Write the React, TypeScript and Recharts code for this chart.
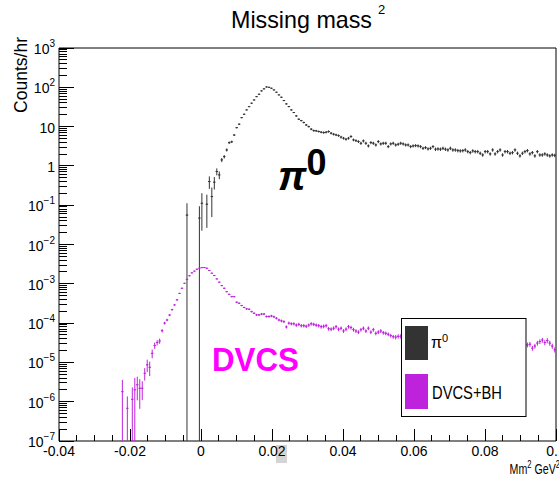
import React from 'react';
import { ScatterChart, Scatter, XAxis, YAxis, ErrorBar, ReferenceArea } from 'recharts';

const W = 559;
const H = 482;
const FONT = '"Liberation Sans", Arial, Helvetica, sans-serif';

// histogram binning
const HIST_MIN = -0.04;
const BIN_WIDTH = 0.0007;
const Y_MIN = 1e-7;
const Y_MAX = 1000;

// pi0 counts/hr, bins 51..199 (null = empty bin)
const PI0_FIRST_BIN = 51;
const pi0Counts: (number | null)[] = [
  0.056, null, null, null, null, 0.047, 0.112, null, 0.106, 0.40,
  0.166, 0.385, 0.72, 0.59, 1.42, 1.72, 2.55, 3.9, 4.1, 6.1,
  9.4, 11.5, 16.9, 20.6, 26.6, 32.2, 39.4, 47.6, 57.8, 66.7,
  81.1, 91.3, 102, 100, 94.7, 85.9, 74.9, 64.1, 55.9, 46,
  37.8, 32.3, 26.6, 22.8, 18.7, 15.4, 14.2, 12.7, 11.0, 10.0,
  8.6, 7.9, 7.8, 7.5, 7.2, 7.05, 7.2, 7.5, 6.8, 6.4,
  6.15, 5.9, 5.4, 5.06, 4.77, 5.06, 5.6, 4.6, 4.4, 4.16,
  3.77, 4.33, 3.77, 3.23, 3.92, 3.77, 3.42, 4.16, 3.63, 3.77,
  3.77, 3.1, 3.63, 3.77, 3.42, 3.56, 3.77, 3.63, 3.42, 3.42,
  3.1, 3.23, 3.29, 3.23, 3.1, 2.81, 2.93, 2.71, 2.81, 3.1,
  2.66, 2.71, 2.66, 2.81, 2.66, 2.55, 2.81, 2.55, 2.55, 2.45,
  2.41, 2.45, 2.55, 2.31, 2.18, 2.41, 2.31, 2.31, 2.1, 1.9,
  2.31, 2.31, 2.02, 2.55, 2.02, 2.31, 2.55, 1.9, 2.31, 2.31,
  2.1, 2.18, 2.55, 2.1, 1.8, 2.1, 2.31, 2.45, 2.02, 2.18,
  1.8, 2.31, 1.9, 1.9, 2.02, 1.9, 1.8, 1.9, 1.85,
];
// pi0 relative errors, percent
const pi0RelErrPct: number[] = [
  100, 0, 0, 0, 0, 100, 80, 0, 75, 35,
  70, 35, 20, 22, 12, 10, 9, 7, 7, 5,
  4, 4, 3, 3, 2, 2, 2, 2, 2, 2,
  2, 2, 2, 2, 2, 2, 2, 2, 2, 2,
  3, 3, 3, 3, 4, 4, 4, 5, 5, 5,
  6, 6, 6, 6, 6, 7, 7, 7, 7, 7,
  7, 7, 8, 8, 8, 8, 8, 8, 8, 8,
  9, 9, 9, 9, 9, 9, 9, 9, 9, 9,
  9, 9, 9, 9, 9, 9, 9, 9, 9, 9,
  9, 9, 9, 9, 9, 9, 9, 9, 9, 9,
  10, 10, 10, 10, 10, 10, 10, 10, 10, 10,
  10, 10, 10, 10, 10, 10, 10, 10, 10, 10,
  10, 10, 10, 10, 10, 10, 10, 10, 10, 10,
  10, 10, 10, 10, 10, 10, 10, 10, 10, 10,
  10, 10, 10, 10, 10, 10, 10, 10, 10,
];

// DVCS+BH counts/hr, bins 25..199
const DVCS_FIRST_BIN = 25;
const dvcsCounts: (number | null)[] = [
  1.8e-6, null, 6.8e-7, null, 1.15e-6, 2.0e-6, 2.7e-6, 2.2e-6, 2.2e-6, 5.3e-6,
  8.7e-6, 7.5e-6, 1.7e-5, 2.7e-5, 3.2e-5, 3.5e-5, 6.4e-5, 1.0e-4, 1.2e-4, 1.6e-4,
  2.2e-4, 2.9e-4, 3.9e-4, 5.7e-4, 7.7e-4, 1.03e-3, 1.3e-3, 1.6e-3, 1.9e-3, 2.1e-3,
  2.35e-3, 2.5e-3, 2.58e-3, 2.59e-3, 2.49e-3, 2.17e-3, 1.86e-3, 1.62e-3, 1.33e-3, 1.10e-3,
  9.0e-4, 7.7e-4, 6.3e-4, 5.4e-4, 4.7e-4, 4.7e-4, 3.4e-4, 3.2e-4, 2.8e-4, 2.5e-4,
  2.3e-4, 2.25e-4, 1.96e-4, 1.78e-4, 1.62e-4, 1.62e-4, 1.7e-4, 1.7e-4, 1.47e-4, 1.47e-4,
  1.52e-4, 1.45e-4, 1.33e-4, 1.2e-4, 1.14e-4, 1.09e-4, 8.0e-5, 1.0e-4, 9.6e-5, 9.6e-5,
  8.9e-5, 9.3e-5, 8.6e-5, 8.6e-5, 8.3e-5, 8.9e-5, 9.6e-5, 9.3e-5, 8.9e-5, 8.6e-5,
  8.1e-5, 8.3e-5, 8.6e-5, 7.2e-5, 7.0e-5, 7.4e-5, 8.1e-5, 7.0e-5, 7.4e-5, 6.3e-5,
  7.0e-5, 8.1e-5, 7.7e-5, 6.8e-5, 6.3e-5, 5.9e-5, 6.8e-5, 7.4e-5, 6.3e-5, 7.4e-5,
  5.9e-5, 6.8e-5, 5.5e-5, 5.9e-5, 6.3e-5, 5.7e-5, 5.5e-5, 5.2e-5, 4.8e-5, 4.5e-5,
  4.4e-5, 4.6e-5, 4.6e-5, 4.9e-5, 4.4e-5, 4.7e-5, 4.3e-5, 4.5e-5, 4.2e-5, 4.6e-5,
  4.1e-5, 4.3e-5, 4.0e-5, 4.4e-5, 3.9e-5, 4.2e-5, 4.0e-5, 3.8e-5, 4.1e-5, 3.7e-5,
  3.9e-5, 3.6e-5, 4.0e-5, 3.5e-5, 3.8e-5, 3.6e-5, 3.4e-5, 3.7e-5, 3.5e-5, 3.3e-5,
  3.6e-5, 3.4e-5, 3.2e-5, 3.5e-5, 3.3e-5, 3.1e-5, 3.4e-5, 3.2e-5, 3.0e-5, 3.3e-5,
  3.1e-5, 3.2e-5, 2.9e-5, 3.1e-5, 3.0e-5, 2.8e-5, 3.1e-5, 2.9e-5, 3.0e-5, 2.8e-5,
  3.0e-5, 2.9e-5, 2.7e-5, 2.8e-5, 2.9e-5, 2.3e-5, 2.6e-5, 3.1e-5, 3.4e-5, 3.7e-5,
  3.2e-5, 3.6e-5, 3.1e-5, 2.6e-5, 2.1e-5,
];
const dvcsRelErrPct: number[] = [
  100, 0, 100, 0, 100, 100, 60, 70, 50, 35,
  35, 40, 25, 18, 15, 15, 10, 8, 7, 6,
  5, 4, 4, 3, 3, 2, 2, 2, 2, 2,
  2, 2, 2, 2, 2, 2, 2, 2, 2, 2,
  3, 3, 3, 3, 3, 3, 4, 4, 4, 4,
  5, 5, 5, 5, 6, 6, 6, 6, 6, 7,
  7, 7, 7, 8, 8, 8, 9, 9, 9, 9,
  10, 10, 10, 10, 10, 10, 10, 10, 10, 10,
  11, 11, 11, 11, 11, 11, 11, 11, 11, 11,
  11, 11, 11, 11, 11, 11, 11, 11, 11, 11,
  11, 11, 11, 11, 11, 11, 11, 11, 11, 11,
  13, 13, 13, 13, 13, 13, 13, 13, 13, 13,
  13, 13, 13, 13, 13, 13, 13, 13, 13, 13,
  13, 13, 13, 13, 13, 13, 13, 13, 13, 13,
  13, 13, 13, 13, 13, 13, 13, 13, 13, 13,
  13, 13, 13, 13, 13, 13, 13, 13, 13, 13,
  14, 14, 14, 14, 14, 14, 14, 14, 14, 14,
  15, 15, 15, 15, 15,
];

// axes
const xTicks = [
  -0.04, -0.035, -0.03, -0.025, -0.02, -0.015, -0.01, -0.005, 0, 0.005, 0.01, 0.015,
  0.02, 0.025, 0.03, 0.035, 0.04, 0.045, 0.05, 0.055, 0.06, 0.065, 0.07, 0.075, 0.08,
  0.085, 0.09, 0.095, 0.1,
];
const xMajorTicks = [-0.04, -0.02, 0, 0.02, 0.04, 0.06, 0.08, 0.1];
const xMajorLabels = ['-0.04', '-0.02', '0', '0.02', '0.04', '0.06', '0.08', '0.1'];
const yMajorTicks = [1e-7, 1e-6, 1e-5, 1e-4, 1e-3, 1e-2, 1e-1, 1, 10, 100, 1000];
const yMajorLabels: [string, string][] = [
  ['10', '\u22127'], ['10', '\u22126'], ['10', '\u22125'], ['10', '\u22124'], ['10', '\u22123'],
  ['10', '\u22122'], ['10', '\u22121'], ['1', ''], ['10', ''], ['10', '2'], ['10', '3'],
];
const yMinorMultipliers = [2, 3, 4, 5, 6, 7, 8, 9];

const yTicks: number[] = [];
yMajorTicks.forEach((m, i) => {
  yTicks.push(m);
  if (i < yMajorTicks.length - 1) yMinorMultipliers.forEach((f) => yTicks.push(m * f));
});

const PI0_COLOR = '#333333';
const DVCS_COLOR = '#bf22dc';

function buildSeries(first: number, counts: (number | null)[], relPct: number[]) {
  const out: { x: number; y: number; ex: number; ey: [number, number] }[] = [];
  counts.forEach((c, i) => {
    if (c == null) return;
    const k = first + i;
    const err = (c * relPct[i]) / 100;
    const lo = Math.min(err, c - Y_MIN);
    out.push({ x: HIST_MIN + (k + 0.5) * BIN_WIDTH, y: c, ex: BIN_WIDTH / 2, ey: [lo, err] });
  });
  return out;
}

const pi0Data = buildSeries(PI0_FIRST_BIN, pi0Counts, pi0RelErrPct);
const dvcsData = buildSeries(DVCS_FIRST_BIN, dvcsCounts, dvcsRelErrPct);

const XTick = (props: any) => {
  const { x, y, payload } = props;
  const v = payload.value;
  const idx = xMajorTicks.findIndex((m) => Math.abs(m - v) < 1e-9);
  if (idx < 0) {
    return <line x1={x} x2={x} y1={y} y2={y - 6} stroke="#000" shapeRendering="crispEdges" />;
  }
  return (
    <g>
      <line x1={x} x2={x} y1={y} y2={y - 12} stroke="#000" shapeRendering="crispEdges" />
      <text x={x} y={y + 15} textAnchor="middle" fontSize={14} fontFamily={FONT} fill="#000">
        {xMajorLabels[idx]}
      </text>
    </g>
  );
};

const YTick = (props: any) => {
  const { x, y, payload } = props;
  const v = payload.value;
  const idx = yMajorTicks.findIndex((m) => Math.abs(v / m - 1) < 1e-6);
  if (idx < 0) {
    return <line x1={x} x2={x + 7.5} y1={y} y2={y} stroke="#000" shapeRendering="crispEdges" />;
  }
  const [base, exp] = yMajorLabels[idx];
  return (
    <g>
      <line x1={x} x2={x + 15} y1={y} y2={y} stroke="#000" shapeRendering="crispEdges" />
      <text x={x - 4} y={y + 6} textAnchor="end" fontSize={14} fontFamily={FONT} fill="#000">
        <tspan>{base}</tspan>
        {exp ? (
          <tspan dy={-7} fontSize={10}>
            {exp}
          </tspan>
        ) : null}
      </text>
    </g>
  );
};

const dot = (color: string) => (p: any) => (
  <rect x={p.cx - 0.5} y={p.cy - 0.5} width={1} height={1} fill={color} />
);

export default function App() {
  return (
    <div style={{ position: 'absolute', left: 0, top: 0, width: W, height: H, background: '#fff', overflow: 'hidden' }}>
      <svg style={{ position: 'absolute', left: 0, top: 0 }} width={W} height={H}>
        <rect x={276} y={445} width={11} height={18} fill="#d4d4d4" />
      </svg>
      <div style={{ position: 'absolute', left: 0, top: 0 }}>
        <ScatterChart width={W} height={H} margin={{ top: 48, right: 3, bottom: 0, left: 0 }}>
          <XAxis
            type="number"
            dataKey="x"
            domain={[-0.04, 0.1]}
            ticks={xTicks}
            interval={0}
            tickSize={0}
            tickMargin={0}
            tick={XTick}
            axisLine={false}
            height={41}
            allowDataOverflow
          />
          <YAxis
            type="number"
            dataKey="y"
            scale="log"
            domain={[Y_MIN, Y_MAX]}
            ticks={yTicks}
            interval={0}
            tickSize={0}
            tickMargin={0}
            tick={YTick}
            axisLine={false}
            width={59}
            allowDataOverflow
          />
          <ReferenceArea x1={-0.04} x2={0.1} y1={Y_MIN} y2={Y_MAX} fill="none" fillOpacity={0} stroke="#000" strokeWidth={1} />
          <Scatter data={pi0Data} isAnimationActive={false} shape={dot(PI0_COLOR)}>
            <ErrorBar dataKey="ex" direction="x" width={0} stroke={PI0_COLOR} strokeWidth={1} isAnimationActive={false} />
            <ErrorBar dataKey="ey" direction="y" width={0} stroke={PI0_COLOR} strokeWidth={1} isAnimationActive={false} />
          </Scatter>
          <Scatter data={dvcsData} isAnimationActive={false} shape={dot(DVCS_COLOR)}>
            <ErrorBar dataKey="ex" direction="x" width={0} stroke={DVCS_COLOR} strokeWidth={1} isAnimationActive={false} />
            <ErrorBar dataKey="ey" direction="y" width={0} stroke={DVCS_COLOR} strokeWidth={1} isAnimationActive={false} />
          </Scatter>
        </ScatterChart>
      </div>
      <svg style={{ position: 'absolute', left: 0, top: 0, pointerEvents: 'none' }} width={W} height={H} fontFamily={FONT}>
        <text x={231} y={28} fontSize={24} textLength={141} lengthAdjust="spacingAndGlyphs" fill="#000">
          Missing mass
        </text>
        <text x={378} y={14} fontSize={13} fill="#000">
          2
        </text>
        <text transform="translate(27,37) rotate(-90)" textAnchor="end" fontSize={17.5} fill="#000">
          Counts/hr
        </text>
        <g transform="translate(560,474) scale(0.76,1)">
          <text x={0} y={0} textAnchor="end" fontSize={14} fill="#000">
            <tspan>Mm</tspan>
            <tspan dy={-6} fontSize={10}>2</tspan>
            <tspan dy={6}> GeV</tspan>
            <tspan dy={-6} fontSize={10}>2</tspan>
          </text>
        </g>
        <text x={278} y={190} fontSize={40} fontWeight="bold" fill="#000">
          <tspan fontStyle="italic">π</tspan>
          <tspan dy={-15} fontSize={36}>0</tspan>
        </text>
        <text x={212} y={371} fontSize={33} fontWeight="bold" textLength={87} lengthAdjust="spacingAndGlyphs" fill="#ff00ff">
          DVCS
        </text>
        <rect x={401.5} y={318.5} width={124.5} height={98} fill="#fff" stroke="#000" strokeWidth={1} />
        <rect x={405} y={326} width={23} height={34} fill="#333333" />
        <rect x={405} y={374} width={23} height={35} fill={DVCS_COLOR} />
        <text x={431} y={348} fontSize={16} fill="#000">
          <tspan>π</tspan>
          <tspan dy={-6} fontSize={11}>0</tspan>
        </text>
        <text x={432} y={399} fontSize={18} textLength={70} lengthAdjust="spacingAndGlyphs" fill="#000">
          DVCS+BH
        </text>
      </svg>
    </div>
  );
}
